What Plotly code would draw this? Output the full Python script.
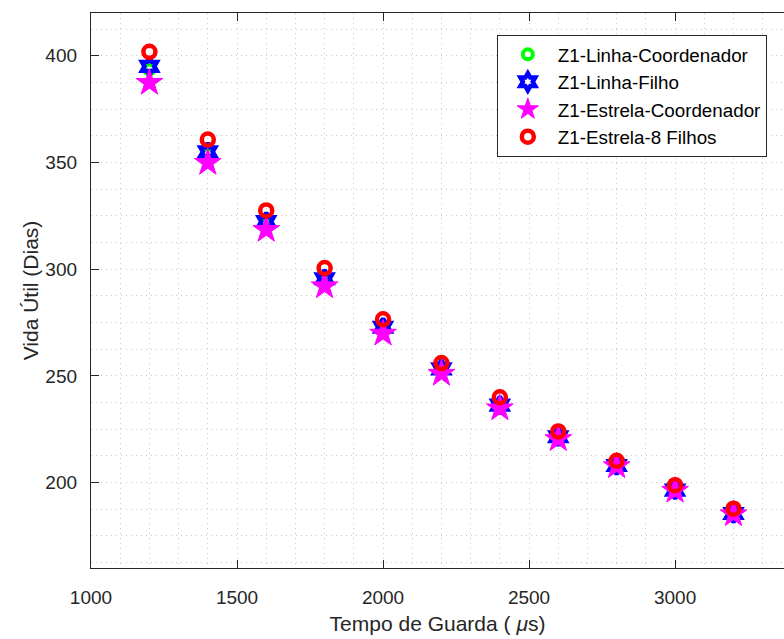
import plotly.graph_objects as go

x_vals = [1200, 1400, 1600, 1800, 2000, 2200, 2400, 2600, 2800, 3000, 3200]
linha_coord = [393.5, 354.0, 321.5, 295.0, 272.5, 253.0, 236.5, 221.5, 208.2, 196.8, 185.8]
linha_filho = [395.0, 355.0, 322.3, 295.5, 272.8, 253.3, 236.3, 221.5, 208.0, 196.5, 185.5]
estrela_coord = [387.3, 349.8, 318.4, 292.0, 269.8, 251.0, 234.8, 220.4, 207.7, 196.2, 185.2]
estrela_8f = [401.8, 360.7, 327.5, 300.5, 276.5, 256.0, 240.0, 224.0, 210.2, 198.8, 187.8]

names = ["Z1-Linha-Coordenador", "Z1-Linha-Filho", "Z1-Estrela-Coordenador", "Z1-Estrela-8 Filhos"]
x_ticks = [1000, 1500, 2000, 2500, 3000]
y_ticks = [200, 250, 300, 350, 400]

FONT = "Liberation Sans, Arial, Helvetica, sans-serif"
AX = "#262626"
GRID = "#c8c8c8"
DASH = "1px,4px"

fig = go.Figure()
fig.add_trace(go.Scatter(x=x_vals, y=linha_coord, name=names[0], mode="markers",
                         marker=dict(symbol="circle-open", size=10, color="#00ff00",
                                     line=dict(width=4, color="#00ff00"))))
fig.add_trace(go.Scatter(x=x_vals, y=linha_filho, name=names[1], mode="markers",
                         marker=dict(symbol="hexagram-open", size=13, color="#0000ff",
                                     line=dict(width=4.5, color="#0000ff"))))
fig.add_trace(go.Scatter(x=x_vals, y=estrela_coord, name=names[2], mode="markers",
                         marker=dict(symbol="star", size=20, color="#ff00ff",
                                     line=dict(width=1, color="#ff00ff"))))
fig.add_trace(go.Scatter(x=x_vals, y=estrela_8f, name=names[3], mode="markers",
                         marker=dict(symbol="circle-open", size=12, color="#ff0000",
                                     line=dict(width=4.5, color="#ff0000"))))

fig.update_layout(
    width=784, height=639,
    margin=dict(l=91, r=0, t=13, b=71),
    paper_bgcolor="white", plot_bgcolor="white",
    font=dict(family=FONT, size=19, color=AX),
    showlegend=True,
    legend=dict(x=0.5856, y=0.961, xanchor="left", yanchor="top",
                bgcolor="white", bordercolor=AX, borderwidth=1,
                itemwidth=50,
                font=dict(size=18.8, color="black")),
)
fig.update_xaxes(
    range=[1000, 3373], tickvals=x_ticks, ticktext=[str(v) for v in x_ticks],
    ticks="inside", ticklen=8, tickcolor=AX, tickwidth=1,
    showline=True, linecolor=AX, linewidth=1.3, mirror="ticks",
    ticklabelstandoff=12,
    showgrid=True, gridcolor=GRID, griddash=DASH, gridwidth=1,
    minor=dict(dtick=100, tick0=1000, showgrid=True, gridcolor=GRID, griddash=DASH, gridwidth=1),
    zeroline=False,
    title=dict(text="Tempo de Guarda ( <i>μ</i>s)", font=dict(size=21, color=AX), standoff=9),
)
fig.update_yaxes(
    range=[160, 420], tickvals=y_ticks, ticktext=[str(v) for v in y_ticks],
    ticks="inside", ticklen=8, tickcolor=AX, tickwidth=1,
    showline=True, linecolor=AX, linewidth=1.3, mirror=False,
    ticklabelstandoff=9,
    showgrid=True, gridcolor=GRID, griddash=DASH, gridwidth=1,
    minor=dict(dtick=12.5, tick0=150, showgrid=True, gridcolor=GRID, griddash=DASH, gridwidth=1),
    zeroline=False,
    title=dict(text="Vida Útil (Dias)", font=dict(size=21, color=AX), standoff=0),
)

fig.write_html("out.html")
